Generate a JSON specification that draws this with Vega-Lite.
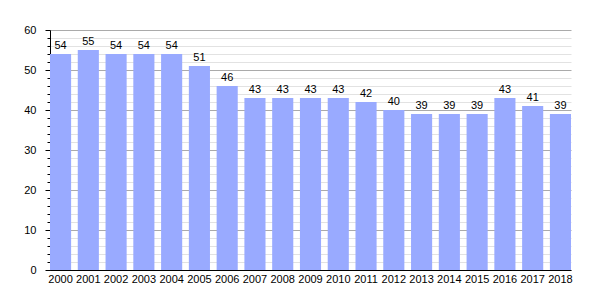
{
  "$schema": "https://vega.github.io/schema/vega-lite/v6.json",
  "width": 521,
  "height": 240,
  "autosize": {"type": "none"},
  "padding": {"left": 50, "top": 30, "right": 29, "bottom": 30},
  "background": "white",
  "config": {
    "view": {"stroke": null},
    "font": "Liberation Sans",
    "axis": {"labelFont": "Liberation Sans", "labelFontSize": 11, "labelColor": "#000", "domainColor": "#000", "tickColor": "#000"}
  },
  "data": {
    "values": [
      {"year": "2000", "value": 54},
      {"year": "2001", "value": 55},
      {"year": "2002", "value": 54},
      {"year": "2003", "value": 54},
      {"year": "2004", "value": 54},
      {"year": "2005", "value": 51},
      {"year": "2006", "value": 46},
      {"year": "2007", "value": 43},
      {"year": "2008", "value": 43},
      {"year": "2009", "value": 43},
      {"year": "2010", "value": 43},
      {"year": "2011", "value": 42},
      {"year": "2012", "value": 40},
      {"year": "2013", "value": 39},
      {"year": "2014", "value": 39},
      {"year": "2015", "value": 39},
      {"year": "2016", "value": 43},
      {"year": "2017", "value": 41},
      {"year": "2018", "value": 39}
    ]
  },
  "encoding": {
    "x": {
      "field": "year", "type": "ordinal",
      "scale": {"paddingInner": 0.24, "paddingOuter": 0},
      "axis": {"title": null, "labelAngle": 0, "ticks": false, "labelPadding": 3, "domainColor": "#000", "domainWidth": 1}
    }
  },
  "layer": [
    {
      "mark": {"type": "bar", "color": "#99aaff"},
      "encoding": {
        "y": {
          "field": "value", "type": "quantitative",
          "scale": {"domain": [0, 60], "nice": false},
          "axis": {"title": null, "values": [0, 2, 4, 6, 8, 12, 14, 16, 18, 22, 24, 26, 28, 32, 34, 36, 38, 42, 44, 46, 48, 52, 54, 56, 58], "labels": false, "tickSize": 3, "grid": true, "gridColor": "#e2e2e2", "gridOpacity": 1, "domain": false, "orient": "left"}
        }
      }
    },
    {
      "mark": {"type": "text", "baseline": "alphabetic", "dy": -5, "fontSize": 11, "font": "Liberation Sans", "color": "#000"},
      "encoding": {
        "y": {
          "field": "value", "type": "quantitative",
          "scale": {"domain": [0, 60], "nice": false},
          "axis": {"title": null, "values": [0, 10, 20, 30, 40, 50, 60], "tickSize": 5, "labelPadding": 9, "grid": true, "gridColor": "#aaaaaa", "gridOpacity": 1, "domainColor": "#000", "orient": "left"}
        },
        "text": {"field": "value", "type": "quantitative"}
      }
    }
  ],
  "resolve": {"axis": {"y": "independent"}}
}
